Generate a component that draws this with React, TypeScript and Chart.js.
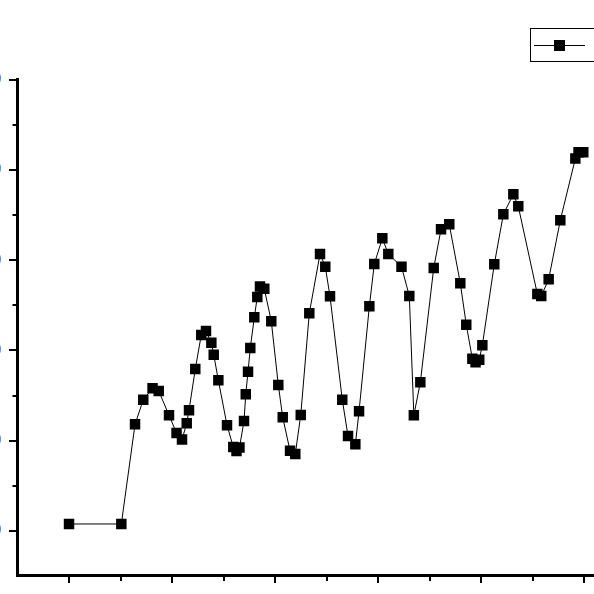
import React, { useEffect, useRef } from "react";
import { Chart, registerables } from "chart.js";

Chart.register(...registerables);

const seriesName = "B";

const xValues = [
  0, 5.08, 6.41, 7.21, 8.11, 8.71, 9.71, 10.44, 10.97, 11.43, 11.65, 12.26, 12.84, 13.3, 13.82, 14.05,
  14.5, 15.34, 15.95, 16.26, 16.55, 16.99, 17.16, 17.38, 17.6, 17.99, 18.28, 18.54, 18.96, 19.64, 20.32,
  20.75, 21.46, 21.97, 22.5, 23.33, 24.37, 24.88, 25.34, 26.53, 27.09, 27.8, 28.16, 29.16, 29.64, 30.42,
  31.0, 32.28, 33.04, 33.48, 34.11, 35.41, 36.12, 36.92, 37.99, 38.57, 39.16, 39.47, 39.83, 40.13, 41.29,
  42.17, 43.14, 43.62, 45.47, 45.85, 46.57, 47.7, 49.16, 49.47, 49.93,
];

const yValues = [
  0.78, 0.78, 11.82, 14.54, 15.8, 15.5, 12.82, 10.85, 10.13, 11.93, 13.37, 17.94, 21.71, 22.15, 20.85, 19.52,
  16.69, 11.71, 9.3, 8.86, 9.25, 12.18, 15.14, 17.64, 20.27, 23.67, 25.91, 27.08, 26.83, 23.22, 16.17,
  12.59, 8.89, 8.53, 12.85, 24.11, 30.68, 29.27, 25.99, 14.54, 10.52, 9.6, 13.26, 24.88, 29.57, 32.41,
  30.68, 29.27, 26.02, 12.82, 16.47, 29.13, 33.41, 33.96, 27.43, 22.85, 19.08, 18.68, 18.97, 20.56, 29.54,
  35.07, 37.29, 35.96, 26.25, 26.02, 27.87, 34.41, 41.25, 41.94, 41.94,
];

const xMajorTicks = [0, 10, 20, 30, 40, 50];
const xMinorTicks = [5, 15, 25, 35, 45];
const yMajorTicks = [0, 10, 20, 30, 40, 50];
const yMinorTicks = [5, 15, 25, 35, 45];
const xTickLabels = ["0", "10", "20", "30", "40", "50"];
const yTickLabels = ["0", "10", "20", "30", "40", "50"];

const CANVAS_W = 760;
const CANVAS_H = 640;

const minorTicksPlugin = {
  id: "minorTicks",
  afterDraw(chart: any) {
    const ctx = chart.ctx;
    const xs = chart.scales.x;
    const ys = chart.scales.y;
    ctx.save();
    ctx.strokeStyle = "#000";
    ctx.lineWidth = 2;
    const xAxisY = Math.round(xs.top - 1.5) + 1.5;
    xMinorTicks.forEach((v) => {
      if (v < xs.min || v > xs.max) return;
      const px = Math.round(xs.getPixelForValue(v) - 1) + 1;
      ctx.beginPath();
      ctx.moveTo(px, xAxisY + 1.5);
      ctx.lineTo(px, xAxisY + 1.5 + 4);
      ctx.stroke();
    });
    const yAxisX = Math.round(ys.right - 1.5) + 1.5;
    yMinorTicks.forEach((v) => {
      if (v < ys.min || v > ys.max) return;
      const py = Math.round(ys.getPixelForValue(v) - 1) + 1;
      ctx.beginPath();
      ctx.moveTo(yAxisX - 1.5, py);
      ctx.lineTo(yAxisX - 1.5 - 3.5, py);
      ctx.stroke();
    });
    ctx.restore();
  },
};

const boxLegendPlugin = {
  id: "boxLegend",
  afterDraw(chart: any) {
    const { ctx, chartArea } = chart;
    const left = Math.round(chartArea.right - 106) + 0.5;
    const top = Math.round(chartArea.top - 52) + 0.5;
    const h = 33;
    const w = 120;
    const midY = top + h / 2;
    ctx.save();
    ctx.fillStyle = "#fff";
    ctx.fillRect(left, top, w, h);
    ctx.strokeStyle = "#000";
    ctx.lineWidth = 1;
    ctx.strokeRect(left, top, w, h);
    ctx.beginPath();
    ctx.moveTo(left + 3.5, Math.round(midY) + 0.5);
    ctx.lineTo(left + 54.5, Math.round(midY) + 0.5);
    ctx.stroke();
    ctx.fillStyle = "#000";
    ctx.fillRect(left + 29 - 5.5, Math.round(midY) - 5, 11, 11);
    ctx.font = "18px 'Liberation Sans', Arial, sans-serif";
    ctx.textBaseline = "middle";
    ctx.textAlign = "left";
    ctx.fillText(seriesName, left + 64, midY + 1);
    ctx.restore();
  },
};

export default function App() {
  const canvasRef = useRef<HTMLCanvasElement | null>(null);

  useEffect(() => {
    const prevOverflow = document.body.style.overflow;
    document.body.style.overflow = "hidden";
    const canvas = canvasRef.current;
    if (!canvas) return;
    const points = xValues.map((x, i) => ({ x, y: yValues[i] }));
    const chart = new Chart(canvas, {
      type: "line",
      data: {
        datasets: [
          {
            label: seriesName,
            data: points,
            borderColor: "#000",
            borderWidth: 1,
            backgroundColor: "#000",
            pointStyle: "rect",
            pointRadius: 7.4,
            pointHoverRadius: 7.4,
            pointBackgroundColor: "#000",
            pointBorderColor: "#000",
            pointBorderWidth: 0,
            tension: 0,
            fill: false,
          },
        ],
      },
      options: {
        animation: false,
        responsive: false,
        devicePixelRatio: 1,
        events: [],
        layout: { padding: { top: 79.5, right: 70.5, bottom: 0, left: 0 } },
        plugins: {
          legend: { display: false },
          title: { display: false },
          tooltip: { enabled: false },
        },
        scales: {
          x: {
            type: "linear",
            position: "bottom",
            min: -5.05,
            max: 55,
            afterFit: (s: any) => {
              s.height = 65;
            },
            afterBuildTicks: (s: any) => {
              s.ticks = xMajorTicks.map((v) => ({ value: v }));
            },
            ticks: {
              color: "#000",
              font: { family: "'Liberation Sans', Arial, sans-serif", size: 16 },
              padding: 22,
              autoSkip: false,
              maxRotation: 0,
              callback: (_v: any, i: number) => xTickLabels[i],
            },
            grid: {
              display: true,
              drawOnChartArea: false,
              drawTicks: true,
              tickLength: 8,
              tickWidth: 2,
              tickColor: "#000",
              lineWidth: 2,
              color: "#000",
            },
            border: { display: true, color: "#000", width: 3 },
          },
          y: {
            type: "linear",
            position: "left",
            min: -4.87,
            max: 50,
            afterFit: (s: any) => {
              s.width = 71;
            },
            afterBuildTicks: (s: any) => {
              s.ticks = yMajorTicks.map((v) => ({ value: v }));
            },
            ticks: {
              color: "#1a6fe0",
              font: { family: "'Liberation Sans', Arial, sans-serif", size: 16 },
              padding: 7.5,
              autoSkip: false,
              callback: (_v: any, i: number) => yTickLabels[i],
            },
            grid: {
              display: true,
              drawOnChartArea: false,
              drawTicks: true,
              tickLength: 8,
              tickWidth: 2,
              tickColor: "#000",
              lineWidth: 2,
              color: "#000",
            },
            border: { display: true, color: "#000", width: 3 },
          },
        },
      },
      plugins: [minorTicksPlugin, boxLegendPlugin],
    });
    return () => {
      chart.destroy();
      document.body.style.overflow = prevOverflow;
    };
  }, []);

  return (
    <div
      style={{
        position: "fixed",
        left: -54,
        top: 0,
        width: CANVAS_W,
        height: CANVAS_H,
        background: "#fff",
      }}
    >
      <canvas ref={canvasRef} width={CANVAS_W} height={CANVAS_H} style={{ display: "block" }} />
    </div>
  );
}
